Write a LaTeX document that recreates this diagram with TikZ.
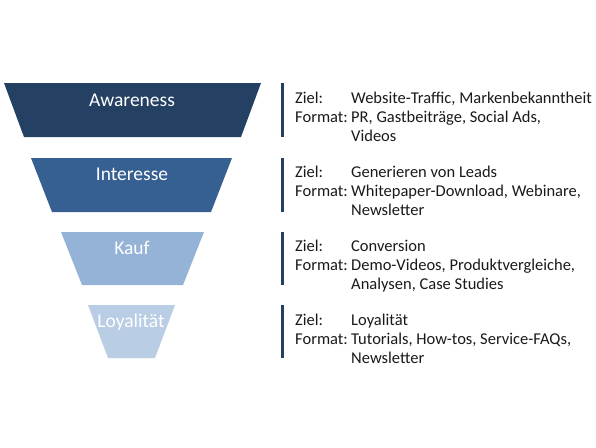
\documentclass[tikz,border=0pt]{standalone}
\usepackage{fontspec}
\setmainfont{Carlito}
\usetikzlibrary{positioning}
\definecolor{navy}   {HTML}{244062}
\definecolor{mid}    {HTML}{376092}
\definecolor{light}  {HTML}{95B3D7}
\definecolor{pale}   {HTML}{B9CDE5}
\definecolor{ink}    {HTML}{1A1A1A}

\tikzset{
  stage/.style={font=\fontsize{19.5}{22}\selectfont, text=white, anchor=base},
  info/.style={font=\fontsize{16.5}{19}\selectfont, text=ink, anchor=base west, inner sep=0pt},
  bar/.style={draw=navy, line width=3pt}
}
\newcommand{\zielformat}[3]{%
  \begin{tabular}[t]{@{}p{56pt}@{}l@{}}
    Ziel: & #1\\
    Format: & #2\\
    & #3
  \end{tabular}}

\begin{document}
\begin{tikzpicture}[x=1pt, y=-1pt]
      \useasboundingbox[fill=white] (0,0) rectangle (596,447);
      % funnel
      \fill[navy]  (4,83)   -- (261,83)  -- (241,137) -- (24,137)  -- cycle;
      \fill[mid]   (31,158) -- (232,158) -- (211,212) -- (52,212)  -- cycle;
      \fill[light] (61,232) -- (204,232) -- (183,285) -- (82,285)  -- cycle;
      \fill[pale]  (88,305) -- (175,305) -- (155,358) -- (108,358) -- cycle;
      \node[stage] (aw) at (132,106.3) {Awareness};
      \node[stage] (in) at (132,180.3) {Interesse};
      \node[stage] (ka) at (132,254.3) {Kauf};
      \node[stage] (lo) at (131,327.3) {Loyalität};
      % bars
      \draw[bar] (282,83)  -- (282,137);
      \draw[bar] (282,158) -- (282,212);
      \draw[bar] (282,232) -- (282,285);
      \draw[bar] (282,305) -- (282,358);
      % text
      \node[info] (t1) at (295,103.3) {\zielformat{Website-Traffic, Markenbekanntheit}{PR, Gastbeiträge, Social Ads,}{Videos}};
      \node[info] (t2) at (295,177.3) {\zielformat{Generieren von Leads}{Whitepaper-Download, Webinare,}{Newsletter}};
      \node[info] (t3) at (295,251.3) {\zielformat{Conversion}{Demo-Videos, Produktvergleiche,}{Analysen, Case Studies}};
      \node[info] (t4) at (295,325.3) {\zielformat{Loyalität}{Tutorials, How-tos, Service-FAQs,}{Newsletter}};
    \end{tikzpicture}
\end{document}
